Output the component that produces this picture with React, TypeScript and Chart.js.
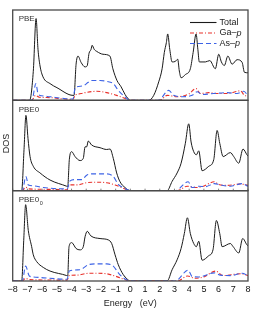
import React, { useEffect, useRef } from "react";
import { Chart, registerables } from "chart.js";

Chart.register(...registerables);

// Energy tick labels (eV)
const energyTicks = [-8, -7, -6, -5, -4, -3, -2, -1, 0, 1, 2, 3, 4, 5, 6, 7, 8];
const panelNames = ["PBE", "PBE0", "PBE0"];
const seriesNames = ["Total", "Ga–p", "As–p"];

// Panel 1: PBE  [energy, DOS]
const pbeTotal: [number, number][] = [[-8,0],[-6.85,0],[-6.6,3.2],[-6.41,9.05],[-6.28,5.65],[-6.14,3.8],[-5.94,2.6],[-5.46,1.85],[-4.99,1.4],[-3.9,0.55],[-3.83,0.55],[-3.69,4.0],[-3.56,4.9],[-3.35,4.2],[-3.08,3.7],[-2.94,3.8],[-2.81,5.2],[-2.67,5.65],[-2.6,6.1],[-2.46,5.65],[-2.27,5.4],[-1.86,5.1],[-1.39,4.9],[-1.19,3.5],[-0.91,2.2],[-0.63,1.5],[-0.36,0.65],[-0.16,0.2],[0,0],[1.25,0],[1.59,0.55],[1.93,2.05],[2.16,3.5],[2.31,5.3],[2.45,6.4],[2.54,7.35],[2.68,5.65],[2.84,4.25],[3.05,4.3],[3.22,4.55],[3.33,3.25],[3.45,2.5],[3.74,2.85],[4.08,3.5],[4.27,5.3],[4.47,7.35],[4.59,5.65],[4.69,4.25],[5.1,4.25],[5.4,4.4],[5.78,3.5],[6.01,5.1],[6.19,4.25],[6.39,3.85],[6.63,4.9],[6.92,4.0],[7.26,4.5],[7.6,4.2],[7.76,3.1],[8,3.05]];
const pbeGa: [number, number][] = [[-8,0],[-6.7,0],[-6.45,0.55],[-6.2,0.35],[-5.5,0.3],[-4.5,0.15],[-3.9,0.1],[-3.75,0.6],[-3.63,0.65],[-3.08,0.85],[-2.29,1.0],[-1.61,0.85],[-0.93,0.55],[-0.36,0.2],[0,0],[2.0,0],[2.5,0.55],[3.18,0.4],[3.97,0.7],[4.47,1.3],[4.76,0.75],[5.33,0.85],[6.01,0.75],[6.58,0.75],[7.48,1.05],[7.82,0.5],[8,0.5]];
const pbeAs: [number, number][] = [[-8,0],[-6.7,0],[-6.42,1.85],[-6.28,0.75],[-6.0,0.5],[-5.46,0.4],[-4.5,0.2],[-3.9,0.15],[-3.78,1.2],[-3.63,1.5],[-3.22,1.6],[-2.86,2.0],[-2.63,2.2],[-2.06,2.2],[-1.61,2.1],[-1.16,1.85],[-0.82,1.1],[-0.48,0.55],[0,0],[1.9,0],[2.61,1.1],[2.95,0.55],[3.52,0.4],[4.2,0.55],[4.54,0.95],[4.88,0.65],[5.67,0.75],[6.58,0.85],[7.26,0.75],[7.71,1.0],[8,0.5]];

// Panel 2: PBE0
const pbe0Total: [number, number][] = [[-8,0],[-7.39,0],[-7.23,4.65],[-7.1,8.5],[-6.96,5.9],[-6.82,3.85],[-6.6,2.75],[-6.14,2.0],[-5.46,1.2],[-4.33,0.5],[-4.26,0.45],[-4.15,3.5],[-3.99,4.4],[-3.76,3.85],[-3.42,3.4],[-3.2,3.65],[-3.08,4.95],[-2.97,4.95],[-2.86,5.6],[-2.63,5.15],[-2.06,4.85],[-1.61,4.65],[-1.38,4.7],[-1.16,3.65],[-0.93,2.0],[-0.7,1.0],[-0.36,0.35],[0,0],[2.5,0],[2.84,1.05],[3.18,2.0],[3.45,3.1],[3.74,5.35],[3.97,7.55],[4.13,5.5],[4.31,4.4],[4.49,4.05],[4.65,4.5],[4.88,2.25],[5.33,2.75],[5.67,3.5],[5.9,6.8],[6.08,5.35],[6.31,3.85],[6.8,4.3],[7.03,3.85],[7.37,3.1],[7.66,4.7],[7.93,4.05],[8,3.9]];
const pbe0Ga: [number, number][] = [[-8,0],[-7.35,0],[-7.12,0.4],[-6.9,0.2],[-5.5,0.15],[-4.3,0.1],[-4.15,0.65],[-3.6,0.65],[-2.97,0.9],[-2.29,0.95],[-1.61,0.9],[-1.04,0.65],[-0.45,0.25],[0,0],[3.2,0],[3.86,0.5],[4.42,0.35],[4.88,0.45],[5.71,1.0],[6.01,0.7],[6.58,0.6],[7.48,0.75],[8,0.6]];
const pbe0As: [number, number][] = [[-8,0],[-7.35,0],[-7.1,1.6],[-6.94,0.65],[-6.6,0.55],[-5.9,0.35],[-4.3,0.2],[-4.1,1.1],[-3.76,1.25],[-3.31,1.25],[-2.97,1.75],[-2.52,1.9],[-1.61,1.9],[-1.16,1.6],[-0.82,0.7],[-0.48,0.35],[0,0],[3.06,0],[3.93,1.0],[4.2,0.35],[4.65,0.5],[5.1,0.45],[5.71,0.8],[6.12,0.65],[6.8,0.5],[7.6,0.8],[8,0.5]];

// Panel 3: PBE0_0
const pbe00Total: [number, number][] = [[-8,0],[-7.39,0],[-7.25,4.5],[-7.12,8.45],[-6.94,5.6],[-6.71,3.8],[-6.6,2.9],[-6.37,2.15],[-5.92,1.5],[-5.46,1.1],[-4.33,0.6],[-4.26,0.55],[-4.17,3.8],[-3.99,4.25],[-3.69,3.6],[-3.42,3.45],[-3.2,3.8],[-3.08,4.9],[-2.93,5.5],[-2.69,5.0],[-2.06,4.7],[-1.5,4.55],[-1.27,4.15],[-1.04,2.9],[-0.82,1.8],[-0.48,0.7],[-0.24,0.25],[0,0],[2.5,0],[2.84,1.25],[3.18,2.35],[3.45,3.6],[3.67,5.25],[3.88,7.0],[4.08,5.25],[4.31,4.15],[4.49,3.8],[4.65,4.4],[4.88,2.3],[5.33,2.8],[5.62,3.45],[5.85,6.7],[6.08,5.25],[6.24,3.8],[6.8,4.15],[6.99,3.8],[7.37,3.1],[7.64,4.7],[7.93,4.0],[8,3.9]];
const pbe00Ga: [number, number][] = [[-8,0],[-7.35,0],[-7.12,0.3],[-6.9,0.15],[-4.3,0.1],[-4.15,0.6],[-3.65,0.65],[-2.86,0.85],[-2.18,0.85],[-1.61,0.8],[-1.04,0.55],[-0.45,0.2],[0,0],[3.2,0],[3.9,0.55],[4.4,0.3],[5.0,0.45],[5.8,1.1],[6.3,0.6],[7.5,0.8],[8,0.6]];
const pbe00As: [number, number][] = [[-8,0],[-7.35,0],[-7.12,1.65],[-6.87,0.55],[-6.6,0.45],[-5.9,0.35],[-4.3,0.2],[-4.15,1.1],[-3.42,1.25],[-2.86,1.8],[-2.29,1.9],[-1.61,1.9],[-1.16,1.65],[-0.82,0.9],[-0.48,0.35],[0,0],[3.06,0],[3.93,1.2],[4.2,0.5],[4.65,0.45],[5.71,0.9],[6.12,0.65],[6.8,0.6],[7.6,0.85],[8,0.6]];

const panelMax = [10, 10.2, 10];

const FONT = "'Liberation Sans', Arial, Helvetica, sans-serif";
const TOTAL_COLOR = "#1a1a1a";
const GA_COLOR = "#e8302a";
const AS_COLOR = "#3d63e6";
const FRAME_COLOR = "#4a4a4a";

export default function App() {
  const ref = useRef<HTMLCanvasElement | null>(null);

  useEffect(() => {
    document.body.style.margin = "0";
    const canvas = ref.current;
    if (!canvas) return;

    const panels = [
      { total: pbeTotal, ga: pbeGa, as: pbeAs },
      { total: pbe0Total, ga: pbe0Ga, as: pbe0As },
      { total: pbe00Total, ga: pbe00Ga, as: pbe00As },
    ];
    const axisIds = ["y1", "y2", "y3"];
    const datasets: any[] = [];
    panels.forEach((p, i) => {
      const common = { yAxisID: axisIds[i], pointRadius: 0, fill: false, cubicInterpolationMode: "monotone" };
      datasets.push({ ...common, label: seriesNames[0], data: p.total.map(([x, y]) => ({ x, y })), borderColor: TOTAL_COLOR, borderWidth: 1.0, order: 3 });
      datasets.push({ ...common, label: seriesNames[1], data: p.ga.map(([x, y]) => ({ x, y })), borderColor: GA_COLOR, borderWidth: 1.1, borderDash: [4, 2, 1, 2], order: 2 });
      datasets.push({ ...common, label: seriesNames[2], data: p.as.map(([x, y]) => ({ x, y })), borderColor: AS_COLOR, borderWidth: 1.1, borderDash: [5, 3], order: 1 });
    });

    const yAxis = (i: number) => ({
      type: "linear",
      min: 0,
      max: panelMax[i],
      stack: "dos",
      stackWeight: 1,
      weight: 3 - i,
      position: "left",
      display: true,
      ticks: { display: false },
      grid: { display: false, drawTicks: false },
      border: { display: false },
      title: { display: false },
    });

    const decor = {
      id: "decor",
      afterDatasetsDraw(chart: any) {
        const ctx = chart.ctx as CanvasRenderingContext2D;
        const area = chart.chartArea;
        const xs = chart.scales.x;
        ctx.save();
        // panel frames
        ctx.strokeStyle = FRAME_COLOR;
        ctx.setLineDash([]);
        axisIds.forEach((id) => {
          const s = chart.scales[id];
          ctx.lineWidth = 1.3;
          ctx.strokeRect(area.left, s.top, area.right - area.left, s.bottom - s.top);
        });
        // small inward ticks on the middle panel's bottom edge
        const mid = chart.scales.y2;
        ctx.beginPath();
        energyTicks.forEach((v) => {
          const px = xs.getPixelForValue(v);
          ctx.moveTo(px, mid.bottom);
          ctx.lineTo(px, mid.bottom - 2);
        });
        ctx.lineWidth = 0.7;
        ctx.stroke();
        // panel labels
        ctx.fillStyle = "#333";
        ctx.textBaseline = "middle";
        ctx.textAlign = "left";
        axisIds.forEach((id, i) => {
          const s = chart.scales[id];
          ctx.font = `8px ${FONT}`;
          const lx = area.left + 6;
          const ly = s.top + 9;
          ctx.fillText(panelNames[i], lx, ly);
          if (i === 2) {
            const w = ctx.measureText(panelNames[i]).width;
            ctx.font = `5.5px ${FONT}`;
            ctx.fillText("0", lx + w + 0.5, ly + 4);
          }
        });
        // DOS label
        ctx.save();
        ctx.translate(7, (area.top + area.bottom) / 2 - 2);
        ctx.rotate(-Math.PI / 2);
        ctx.textAlign = "center";
        ctx.font = `9px ${FONT}`;
        ctx.fillStyle = "#222";
        ctx.fillText("DOS", 0, 0);
        ctx.restore();
        // legend
        const rows = [
          { color: TOTAL_COLOR, dash: [] as number[], label: seriesNames[0] },
          { color: GA_COLOR, dash: [4, 2, 1, 2], label: seriesNames[1] },
          { color: AS_COLOR, dash: [5, 3], label: seriesNames[2] },
        ];
        const top = chart.scales.y1.top;
        rows.forEach((r, i) => {
          const y = top + 12.5 + i * 10.5;
          ctx.beginPath();
          ctx.strokeStyle = r.color;
          ctx.lineWidth = 1.1;
          ctx.setLineDash(r.dash);
          ctx.moveTo(190, y);
          ctx.lineTo(216.5, y);
          ctx.stroke();
          ctx.setLineDash([]);
          ctx.fillStyle = "#222";
          ctx.font = `9px ${FONT}`;
          ctx.textAlign = "left";
          const parts = r.label.split("–");
          if (parts.length === 2) {
            const a = parts[0] + "–";
            ctx.fillText(a, 219.5, y);
            const w = ctx.measureText(a).width;
            ctx.font = `italic 9px ${FONT}`;
            ctx.fillText(parts[1], 219.5 + w, y);
          } else {
            ctx.fillText(r.label, 219.5, y);
          }
        });
        ctx.restore();
      },
    };

    const chart = new Chart(canvas, {
      type: "line",
      data: { datasets },
      options: {
        animation: false,
        responsive: false,
        devicePixelRatio: 1,
        layout: { padding: { left: 12.7, right: 7, top: 10, bottom: 2.2 } },
        plugins: { legend: { display: false }, tooltip: { enabled: false } },
        scales: {
          x: {
            type: "linear",
            min: -8,
            max: 8,
            position: "bottom",
            grid: { display: false, drawTicks: false },
            border: { display: false },
            afterBuildTicks: (scale: any) => {
              scale.ticks = energyTicks.map((v) => ({ value: v }));
            },
            ticks: {
              padding: 4,
              maxRotation: 0,
              autoSkip: false,
              color: "#111",
              font: { family: FONT, size: 9, lineHeight: 1 },
              callback: (v: any) => String(v).replace("-", "−"),
            },
            title: {
              display: true,
              text: "Energy   (eV)",
              color: "#222",
              padding: { top: 0, bottom: 0 },
              font: { family: FONT, size: 9, lineHeight: 1.2 },
            },
          },
          y1: yAxis(0),
          y2: yAxis(1),
          y3: yAxis(2),
        } as any,
      },
      plugins: [decor],
    } as any);

    return () => chart.destroy();
  }, []);

  return (
    <div style={{ width: 255, height: 311 }}>
      <canvas ref={ref} width={255} height={311} style={{ display: "block" }} />
    </div>
  );
}
